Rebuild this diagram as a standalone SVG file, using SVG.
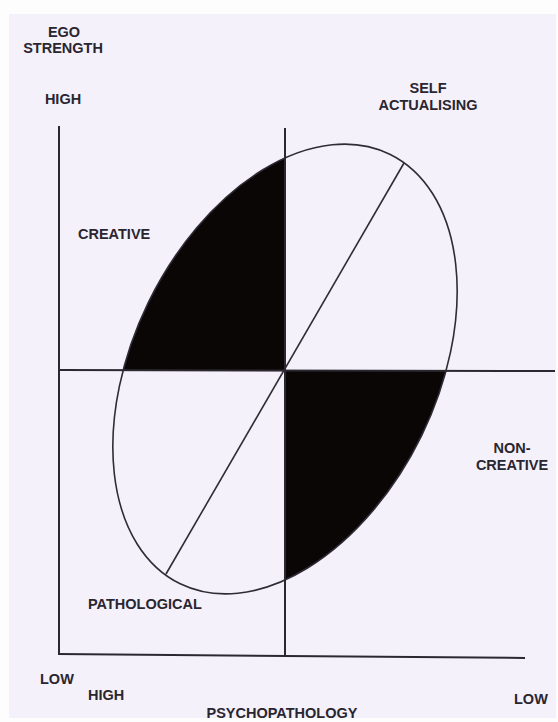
<svg xmlns="http://www.w3.org/2000/svg" width="558" height="722" viewBox="0 0 558 722">
<style>
.t{font-family:"Liberation Sans",Arial,sans-serif;font-weight:bold;font-size:14.5px;fill:#2a2630}
.ax{stroke:#2b2830;stroke-width:2;fill:none}
.ln{stroke:#2f2c36;stroke-width:1.6;fill:none}
</style>
<defs>
<clipPath id="ell">
<ellipse cx="285" cy="369" rx="239" ry="152" transform="rotate(-64 285 369)"/>
</clipPath>
</defs>
<rect x="0" y="0" width="558" height="722" fill="#fdfdfe"/>
<rect x="9" y="14" width="547" height="704" fill="#f4f1fb"/>
<g id="quadrants" clip-path="url(#ell)">
<rect x="0" y="0" width="285" height="370" fill="#0a0606"/>
<rect x="285" y="370" width="273" height="352" fill="#0a0606"/>
</g>
<g id="ellipse">
<ellipse class="ln" cx="285" cy="369" rx="239" ry="152" transform="rotate(-64 285 369)"/>
</g>
<g id="connectors">
<line class="ln" x1="404" y1="163" x2="166" y2="574"/>
<line class="ax" x1="59" y1="126" x2="59" y2="654"/>
<line class="ax" x1="58" y1="654" x2="525" y2="658"/>
<line class="ax" x1="285" y1="128" x2="285" y2="657"/>
<line class="ax" x1="60" y1="370" x2="555" y2="371"/>
</g>
<g id="labels">
<text class="t" x="64" y="37" text-anchor="middle">EGO</text>
<text class="t" x="63" y="53" text-anchor="middle">STRENGTH</text>
<text class="t" x="63" y="104" text-anchor="middle">HIGH</text>
<text class="t" x="428" y="93" text-anchor="middle">SELF</text>
<text class="t" x="428" y="110" text-anchor="middle">ACTUALISING</text>
<text class="t" x="78" y="239">CREATIVE</text>
<text class="t" x="512" y="453" text-anchor="middle">NON-</text>
<text class="t" x="512" y="470" text-anchor="middle">CREATIVE</text>
<text class="t" x="88" y="609">PATHOLOGICAL</text>
<text class="t" x="40" y="684">LOW</text>
<text class="t" x="88" y="700">HIGH</text>
<text class="t" x="282" y="718" text-anchor="middle">PSYCHOPATHOLOGY</text>
<text class="t" x="514" y="704">LOW</text>
</g>
</svg>
